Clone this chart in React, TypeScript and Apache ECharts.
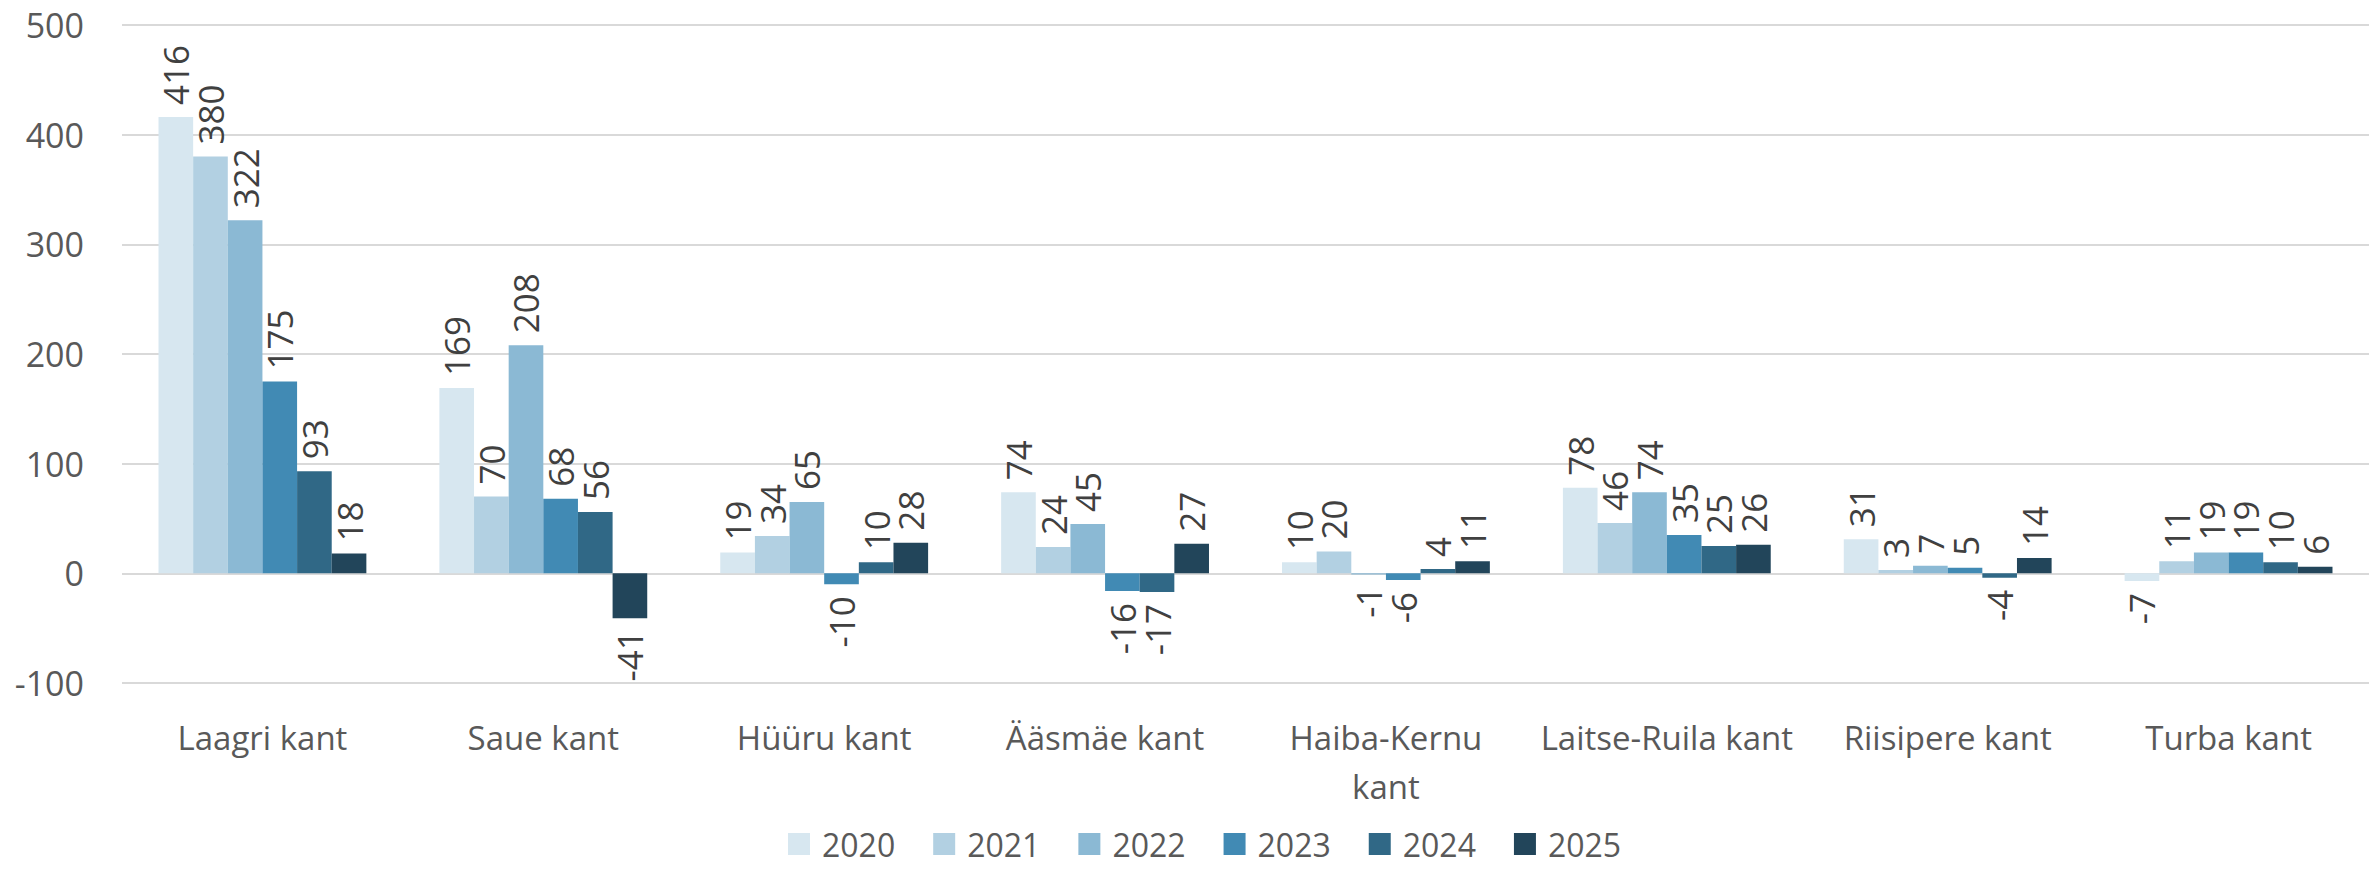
import React, { useEffect, useRef } from "react";
import * as echarts from "echarts";

const categories = [
  "Laagri kant",
  "Saue kant",
  "Hüüru kant",
  "Ääsmäe kant",
  "Haiba-Kernu kant",
  "Laitse-Ruila kant",
  "Riisipere kant",
  "Turba kant",
];
const years = ["2020", "2021", "2022", "2023", "2024", "2025"];
const v2020 = [416, 169, 19, 74, 10, 78, 31, -7];
const v2021 = [380, 70, 34, 24, 20, 46, 3, 11];
const v2022 = [322, 208, 65, 45, -1, 74, 7, 19];
const v2023 = [175, 68, -10, -16, -6, 35, 5, 19];
const v2024 = [93, 56, 10, -17, 4, 25, -4, 10];
const v2025 = [18, -41, 28, 27, 11, 26, 14, 6];
const seriesValues = [v2020, v2021, v2022, v2023, v2024, v2025];
const colors = ["#d7e7f0", "#b2d0e2", "#8bb9d4", "#418ab4", "#306886", "#22455a"];
const yTicks = { min: -100, max: 500, interval: 100 };

const FONT = "'Open Sans', sans-serif";

export default function App() {
  const ref = useRef<HTMLDivElement>(null);
  useEffect(() => {
    document.body.style.margin = "0";
    if (!ref.current) return;
    const chart = echarts.init(ref.current, null, { renderer: "svg" });
    const series = years.map((y, si) => ({
      name: y,
      type: "bar",
      barGap: "0%",
      barCategoryGap: "26%",
      itemStyle: { color: colors[si] },
      data: seriesValues[si].map((v) => ({
        value: v,
        label:
          v < 0
            ? { position: "bottom", align: "right" }
            : { position: "top", align: "left" },
      })),
      label: {
        show: true,
        rotate: 90,
        verticalAlign: "middle",
        distance: 12,
        fontFamily: FONT,
        fontSize: 35,
        color: "#404040",
      },
    }));
    chart.setOption({
      animation: false,
      color: colors,
      grid: { left: 122, right: 0, top: 25, bottom: 188, containLabel: false },
      legend: {
        data: years,
        left: 783,
        top: 822,
        itemWidth: 22,
        itemHeight: 22,
        itemGap: 38,
        icon: "rect",
        textStyle: {
          fontFamily: FONT,
          fontSize: 32,
          color: "#595959",
          lineHeight: 34,
          padding: [0, 0, 0, 7],
        },
      },
      xAxis: {
        type: "category",
        data: categories,
        axisLine: { show: false, onZero: false },
        axisTick: { show: false },
        axisLabel: {
          interval: 0,
          margin: 30,
          fontFamily: FONT,
          fontSize: 33,
          color: "#595959",
          lineHeight: 49,
          formatter: (v: string) => (v === "Haiba-Kernu kant" ? "Haiba-Kernu\nkant" : v),
        },
      },
      yAxis: {
        type: "value",
        min: yTicks.min,
        max: yTicks.max,
        interval: yTicks.interval,
        axisLine: { show: false },
        axisTick: { show: false },
        splitLine: { lineStyle: { color: "#d9d9d9", width: 2 } },
        axisLabel: {
          margin: 38,
          fontFamily: FONT,
          fontSize: 34,
          color: "#595959",
        },
      },
      series,
    });
    return () => chart.dispose();
  }, []);
  return <div ref={ref} style={{ width: 2369, height: 871 }} />;
}
